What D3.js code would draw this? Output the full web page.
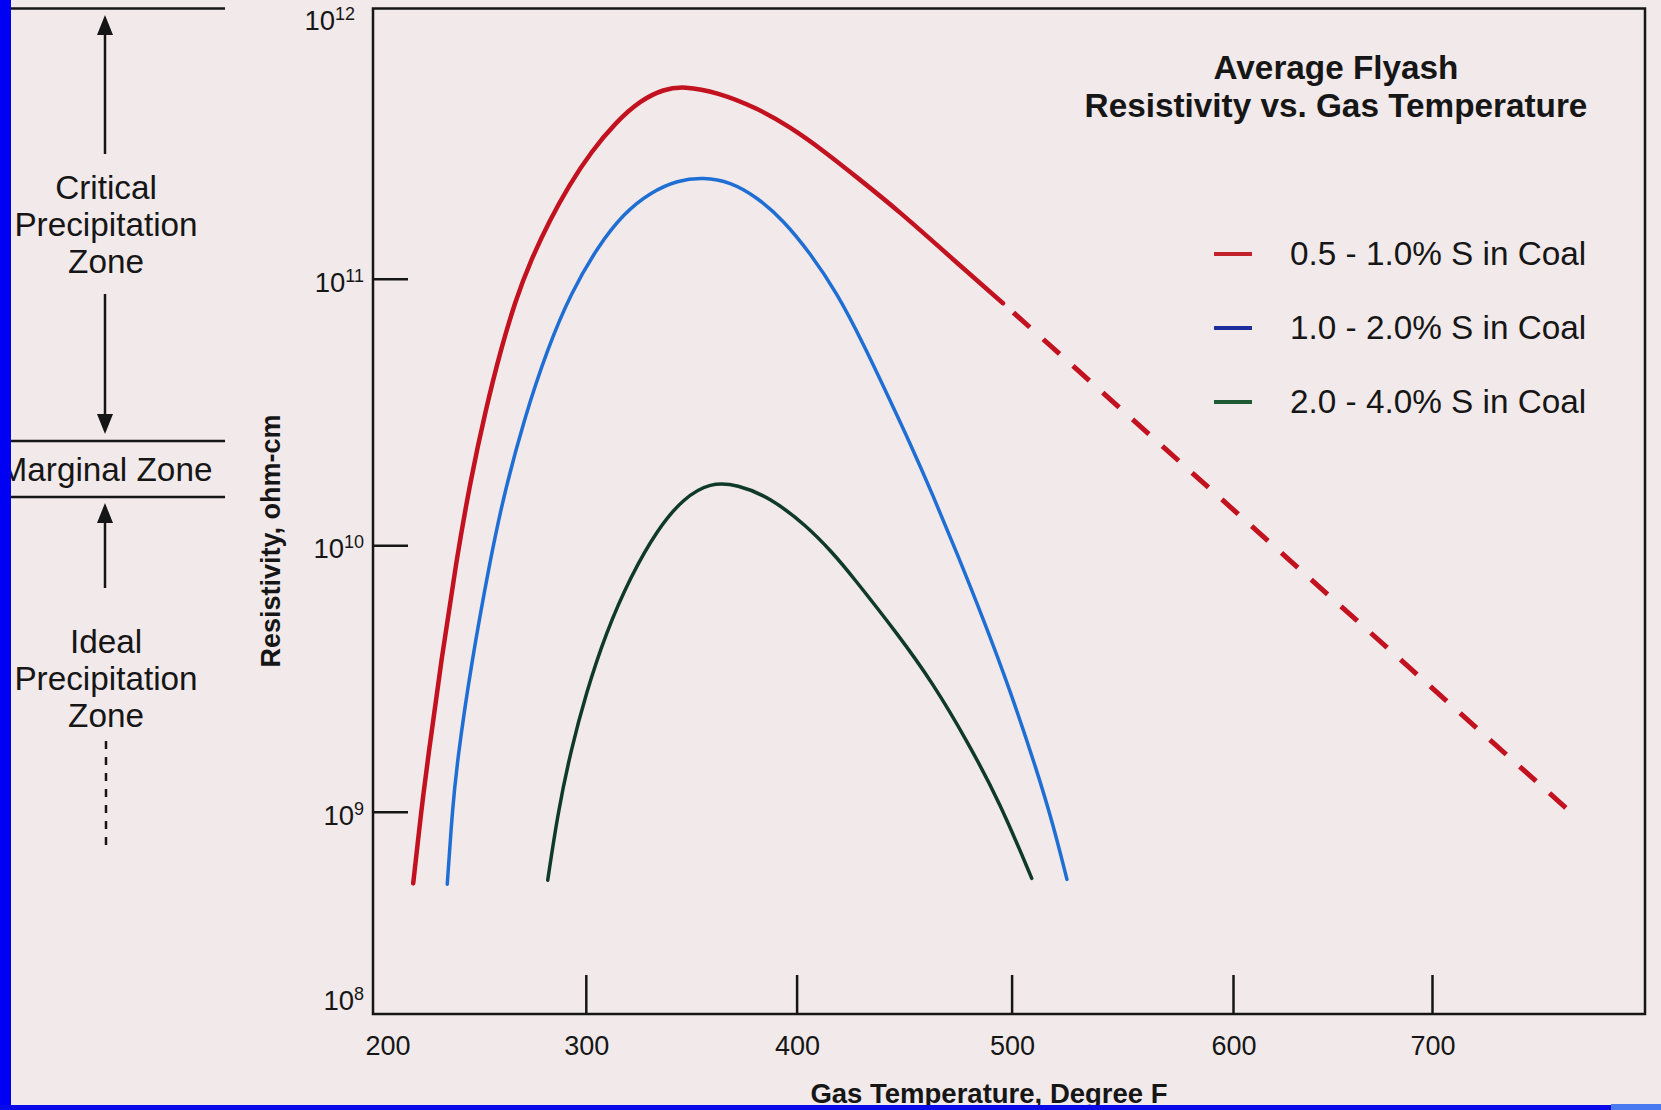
<!DOCTYPE html>
<html>
<head>
<meta charset="utf-8">
<script src="https://cdn.jsdelivr.net/npm/d3@7"></script>
<style>
html, body { margin: 0; padding: 0; background: #f1e9ea; }
svg { display: block; }
text { font-family: "Liberation Sans", Arial, Helvetica, sans-serif; fill: #161616; }
</style>
</head>
<body>
<svg id="chart" width="1661" height="1110"></svg>
<script>
// ---------------- DATA ----------------
const seriesNames = ["0.5 - 1.0% S in Coal", "1.0 - 2.0% S in Coal", "2.0 - 4.0% S in Coal"];

// 0.5 - 1.0 % S (solid part)
const redTemp = [218.9, 222.7, 225.7, 232.1, 239.2, 245.8, 252.9, 260.0, 267.0, 274.1, 283.1, 292.1, 302.5, 314.3, 326.1, 337.0, 346.4, 362.4, 381.3, 396.9, 412.3, 428.1, 448.1, 471.3, 496.0];
const redRes  = [5.38e8, 1.01e9, 1.56e9, 3.70e9, 8.79e9, 1.75e10, 3.21e10, 5.40e10, 8.32e10, 1.17e11, 1.66e11, 2.24e11, 2.99e11, 3.87e11, 4.68e11, 5.14e11, 5.28e11, 5.01e11, 4.37e11, 3.71e11, 3.03e11, 2.40e11, 1.78e11, 1.21e11, 8.09e10];
// 0.5 - 1.0 % S (dashed extrapolation)
const redDashTemp = [496.0, 765.0];
const redDashRes  = [8.09e10, 1.0e9];

// 1.0 - 2.0 % S
const blueTemp = [234.9, 237.3, 239.7, 245.8, 255.2, 261.4, 270.8, 282.1, 293.0, 305.7, 318.0, 330.8, 343.5, 355.8, 368.5, 381.3, 393.6, 406.2, 418.8, 430.9, 443.4, 452.7, 463.4, 474.6, 486.7, 499.3, 511.5, 518.7, 525.0];
const blueRes  = [5.34e8, 1.02e9, 1.57e9, 3.45e9, 8.93e9, 1.53e10, 2.94e10, 5.49e10, 8.83e10, 1.32e11, 1.76e11, 2.11e11, 2.34e11, 2.40e11, 2.31e11, 2.02e11, 1.66e11, 1.25e11, 8.83e10, 5.73e10, 3.50e10, 2.42e10, 1.54e10, 9.33e9, 5.32e9, 2.86e9, 1.42e9, 8.97e8, 5.57e8];

// 2.0 - 4.0 % S
const greenTemp = [282.1, 286.9, 293.0, 300.1, 309.5, 321.3, 334.1, 346.3, 359.1, 371.8, 387.4, 404.8, 416.9, 424.8, 448.1, 463.4, 479.2, 494.6, 509.1];
const greenRes  = [5.53e8, 9.95e8, 1.70e9, 2.78e9, 4.68e9, 7.65e9, 1.15e10, 1.50e10, 1.72e10, 1.69e10, 1.51e10, 1.18e10, 9.33e9, 7.85e9, 4.52e9, 3.03e9, 1.85e9, 1.08e9, 5.62e8];

// axes
const xDomainStops = [200, 300, 400, 500, 600, 700, 800];
const xTickValues = [300, 400, 500, 600, 700];
const xTickLabels = [200, 300, 400, 500, 600, 700];
const yDomain = [1.74e8, 1e12];
const yTickValues = [1e9, 1e10, 1e11];
const yLabelValues = [1e12, 1e11, 1e10, 1e9];
const yLabelExps = ["12", "11", "10", "9"];
const yFloorExp = "8";

const titleLines = ["Average Flyash", "Resistivity vs. Gas Temperature"];
const xTitle = "Gas Temperature, Degree F";
const yTitle = "Resistivity, ohm-cm";
const zoneCritical = ["Critical", "Precipitation", "Zone"];
const zoneMarginal = "Marginal Zone";
const zoneIdeal = ["Ideal", "Precipitation", "Zone"];

// ---------------- DRAWING ----------------
const W = 1661, H = 1110;
const svg = d3.select("#chart");
svg.append("rect").attr("width", W).attr("height", H).attr("fill", "#f1e9ea");

const plot = { left: 373, right: 1645, top: 8.5, bottom: 1014 };
// hand-drawn axis: the printed tick marks are not exactly evenly spaced
const x = d3.scaleLinear().domain(xDomainStops)
  .range([plot.left, 585.8, 796.6, 1011.6, 1233, 1432, 1644.3]);
const y = d3.scaleLog().domain(yDomain).range([plot.bottom, 12.2]);
const ink = "#161616";

// frame
svg.append("rect")
  .attr("x", plot.left).attr("y", plot.top)
  .attr("width", plot.right - plot.left).attr("height", plot.bottom - plot.top)
  .attr("fill", "none").attr("stroke", ink).attr("stroke-width", 2.5);

// x ticks (inside)
const gx = svg.append("g").attr("transform", `translate(0,${plot.bottom})`)
  .call(d3.axisBottom(x).tickValues(xTickValues).tickSize(-39).tickFormat(""));
gx.select(".domain").remove();
gx.selectAll(".tick line").attr("stroke", ink).attr("stroke-width", 2.5);

svg.append("g").selectAll("text").data(xTickLabels).join("text")
  .attr("x", d => x(d) + (d === xDomainStops[0] ? 15 : 1))
  .attr("y", 1055)
  .attr("text-anchor", "middle")
  .attr("font-size", 27)
  .text(d => d);

// y ticks (inside)
const gy = svg.append("g").attr("transform", `translate(${plot.left},0)`)
  .call(d3.axisLeft(y).tickValues(yTickValues).tickSize(-35).tickFormat(""));
gy.select(".domain").remove();
gy.selectAll(".tick line").attr("stroke", ink).attr("stroke-width", 2.5);

function powLabel(g, xPos, yPos, exp) {
  const t = g.append("text").attr("x", xPos).attr("y", yPos)
    .attr("text-anchor", "end").attr("font-size", 27.5);
  t.append("tspan").text("10");
  t.append("tspan").attr("font-size", 18).attr("dy", -10).text(exp);
}
const gyl = svg.append("g");
yLabelValues.forEach((v, i) => {
  const top = i === 0;
  powLabel(gyl, top ? 355 : 364, top ? 30 : y(v) + 13, yLabelExps[i]);
});
powLabel(gyl, 364, plot.bottom - 4, yFloorExp);

// axis titles
svg.append("text").attr("x", 989).attr("y", 1103).attr("text-anchor", "middle")
  .attr("font-size", 27.5).attr("font-weight", "bold").text(xTitle);
svg.append("text").attr("transform", "translate(280,541) rotate(-90)")
  .attr("text-anchor", "middle").attr("font-size", 27).attr("font-weight", "bold").text(yTitle);

// curves
const line = d3.line().x(d => x(d[0])).y(d => y(d[1])).curve(d3.curveBasis);
const series = [
  { temp: redTemp, res: redRes, color: "#c3121f", width: 4.5 },
  { temp: blueTemp, res: blueRes, color: "#1f6ed4", width: 3.5 },
  { temp: greenTemp, res: greenRes, color: "#0f3a27", width: 3.5 }
];
svg.append("g").selectAll("path").data(series).join("path")
  .attr("d", s => line(d3.zip(s.temp, s.res)))
  .attr("fill", "none").attr("stroke", s => s.color).attr("stroke-width", s => s.width)
  .attr("stroke-linecap", "round");
svg.append("path")
  .attr("d", d3.line().x(d => x(d[0])).y(d => y(d[1]))(d3.zip(redDashTemp, redDashRes)))
  .attr("fill", "none").attr("stroke", "#c3121f").attr("stroke-width", 5)
  .attr("stroke-dasharray", "22,18").attr("stroke-dashoffset", -14);

// title
svg.append("g").selectAll("text").data(titleLines).join("text")
  .attr("x", 1336).attr("y", (d, i) => 79 + i * 38)
  .attr("text-anchor", "middle").attr("font-size", 33.3).attr("font-weight", "bold")
  .text(d => d);

// legend
const legendSwatch = ["#c4222a", "#1c2e9e", "#1e5a34"];
const lg = svg.append("g").selectAll("g").data(seriesNames).join("g")
  .attr("transform", (d, i) => `translate(0,${265 + i * 74})`);
lg.append("line").attr("x1", 1214).attr("x2", 1252).attr("y1", -11).attr("y2", -11)
  .attr("stroke", (d, i) => legendSwatch[i]).attr("stroke-width", 4);
lg.append("text").attr("x", 1290).attr("y", 0).attr("font-size", 33.3).text(d => d);

// ---------------- left zone annotation ----------------
const zg = svg.append("g");
[8.5, 441, 497].forEach(yy => zg.append("line").attr("x1", 11).attr("x2", 225)
  .attr("y1", yy).attr("y2", yy).attr("stroke", ink).attr("stroke-width", 2.5));
const ax = 105;
function arrow(y1, y2, tipY, dir) {
  zg.append("line").attr("x1", ax).attr("x2", ax).attr("y1", y1).attr("y2", y2)
    .attr("stroke", ink).attr("stroke-width", 2.5);
  const b = tipY + dir * 20;
  zg.append("path").attr("d", `M${ax},${tipY}L${ax - 8},${b}L${ax + 8},${b}Z`).attr("fill", ink);
}
arrow(30, 154, 15, 1);
arrow(294, 418, 434, -1);
arrow(518, 588, 503, 1);
const zfs = 33.3;
zg.selectAll(".zc").data(zoneCritical).join("text").attr("class", "zc")
  .attr("x", 106).attr("y", (d, i) => 199 + i * 37).attr("text-anchor", "middle")
  .attr("font-size", zfs).text(d => d);
zg.append("text").attr("x", 106).attr("y", 480.5).attr("text-anchor", "middle")
  .attr("font-size", zfs).text(zoneMarginal);
zg.selectAll(".zi").data(zoneIdeal).join("text").attr("class", "zi")
  .attr("x", 106).attr("y", (d, i) => 652.5 + i * 37).attr("text-anchor", "middle")
  .attr("font-size", zfs).text(d => d);
zg.append("line").attr("x1", ax + 1).attr("x2", ax + 1).attr("y1", 741).attr("y2", 850)
  .attr("stroke", ink).attr("stroke-width", 2.5).attr("stroke-dasharray", "8,8");

// slide border (blue)
svg.append("rect").attr("x", 0).attr("y", 0).attr("width", 11).attr("height", H).attr("fill", "#0000f2");
svg.append("rect").attr("x", 0).attr("y", 1105).attr("width", W).attr("height", 5).attr("fill", "#0a0ae8");
svg.append("rect").attr("x", 1611).attr("y", 1104).attr("width", 50).attr("height", 6).attr("fill", "#4a7af2");
</script>
</body>
</html>
